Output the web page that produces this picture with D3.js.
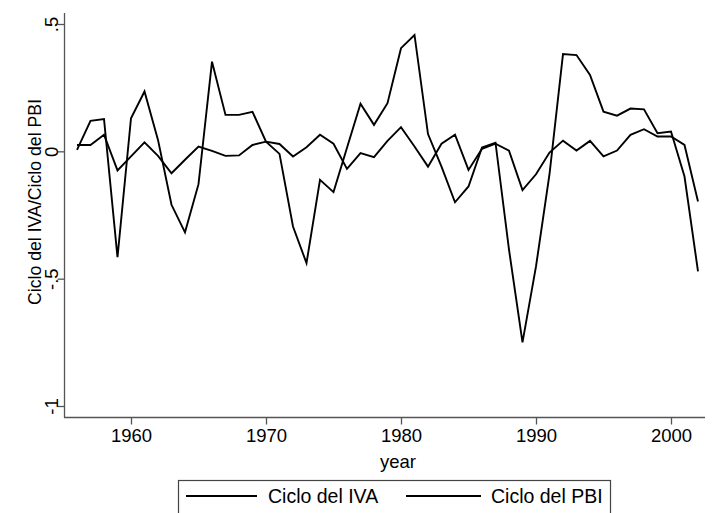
<!DOCTYPE html>
<html>
<head>
<meta charset="utf-8">
<script src="https://cdn.jsdelivr.net/npm/d3@7"></script>
<style>
  body { margin: 0; background: #fff; }
  svg { display: block; font-family: "Liberation Sans", Arial, sans-serif; }
</style>
</head>
<body>
<div id="chart"></div>
<script>
const years = d3.range(1956, 2003);

const cicloIVA = [
  0.006, 0.12, 0.127, -0.416, 0.13, 0.235, 0.045, -0.21, -0.318, -0.129,
  0.352, 0.143, 0.143, 0.155, 0.038, -0.01, -0.295, -0.439, -0.112, -0.16,
  0.014, 0.187, 0.104, 0.189, 0.405, 0.457, 0.068, -0.06, -0.2, -0.138,
  0.015, 0.034, -0.386, -0.75, -0.452, -0.09, 0.382, 0.378, 0.3, 0.156,
  0.14, 0.168, 0.165, 0.071, 0.078, -0.099, -0.471
];

const cicloPBI = [
  0.025, 0.025, 0.065, -0.075, -0.02, 0.035, -0.018, -0.086, -0.033, 0.019,
  0.002, -0.018, -0.016, 0.025, 0.038, 0.029, -0.02, 0.016, 0.065, 0.03,
  -0.069, -0.007, -0.023, 0.041, 0.095, 0.019, -0.06, 0.03, 0.065, -0.073,
  0.01, 0.03, 0.003, -0.152, -0.09, -0.005, 0.042, 0.003, 0.041, -0.02,
  0.003, 0.065, 0.087, 0.058, 0.058, 0.025, -0.197
];

const seriesNames = ['Ciclo del IVA', 'Ciclo del PBI'];
const xTicks = [1960, 1970, 1980, 1990, 2000];
const yTicks = [-1, -0.5, 0, 0.5];
const yTickLabels = ['-1', '-.5', '0', '.5'];

let width = 713,
    height = 513,
    margin = {top: 13, left: 64, bottom: 96, right: 8},
    axisColor = '#555',
    lineColor = '#000';

let svg = d3.select('#chart')
  .append('svg')
  .attr('width', width)
  .attr('height', height);

let x = d3.scaleLinear()
  .domain([1960, 2000])
  .range([131, 671]);

let y = d3.scaleLinear()
  .domain([-1, 0.5])
  .range([406, 24]);

let plotBottom = height - margin.bottom + 0.5;

// axes
let xAxis = svg.append('g')
  .attr('transform', `translate(0, ${plotBottom})`)
  .call(d3.axisBottom(x).tickValues(xTicks).tickFormat(d3.format('d'))
    .tickSize(7).tickPadding(4).tickSizeOuter(0));

xAxis.select('.domain').attr('d', `M${margin.left},0H${width - margin.right}`);

let yAxis = svg.append('g')
  .attr('transform', `translate(${margin.left + 0.5}, 0)`)
  .call(d3.axisLeft(y).tickValues(yTicks).tickFormat((d, i) => yTickLabels[i])
    .tickSize(7).tickSizeOuter(0));

yAxis.select('.domain').attr('d', `M0,${margin.top}V${plotBottom}`);

svg.selectAll('.domain, .tick line')
  .attr('stroke', axisColor)
  .attr('stroke-width', 1.3);

xAxis.selectAll('.tick text')
  .attr('font-size', 18.5)
  .attr('fill', '#000')
  .attr('font-family', null);

yAxis.selectAll('.tick text')
  .attr('font-size', 18.5)
  .attr('fill', '#000')
  .attr('font-family', null)
  .attr('text-anchor', 'middle')
  .attr('dy', null)
  .attr('x', null)
  .attr('transform', 'translate(-7, 0) rotate(-90)');

// axis titles
svg.append('text')
  .attr('x', 398)
  .attr('y', 468)
  .attr('text-anchor', 'middle')
  .attr('font-size', 18.5)
  .text('year');

svg.append('text')
  .attr('transform', 'translate(41, 202) rotate(-90)')
  .attr('text-anchor', 'middle')
  .attr('font-size', 17.7)
  .text('Ciclo del IVA/Ciclo del PBI');

// lines
let line = d3.line()
  .x((d, i) => x(years[i]))
  .y((d) => y(d));

svg.append('g')
  .selectAll('path')
  .data([cicloPBI, cicloIVA])
  .enter()
  .append('path')
  .attr('d', line)
  .attr('fill', 'none')
  .attr('stroke', lineColor)
  .attr('stroke-width', 1.9)
  .attr('stroke-linejoin', 'miter');

// legend
let legend = svg.append('g');

legend.append('rect')
  .attr('x', 178.5)
  .attr('y', 480.5)
  .attr('width', 432)
  .attr('height', 60)
  .attr('fill', '#fff')
  .attr('stroke', '#444')
  .attr('stroke-width', 1.2);

let legendItems = [
  {name: seriesNames[0], x1: 186, x2: 257, tx: 268},
  {name: seriesNames[1], x1: 406, x2: 481, tx: 491}
];

legendItems.forEach((item) => {
  legend.append('line')
    .attr('x1', item.x1)
    .attr('x2', item.x2)
    .attr('y1', 496)
    .attr('y2', 496)
    .attr('stroke', lineColor)
    .attr('stroke-width', 2);

  legend.append('text')
    .attr('x', item.tx)
    .attr('y', 503)
    .attr('font-size', 19.5)
    .text(item.name);
});
</script>
</body>
</html>
